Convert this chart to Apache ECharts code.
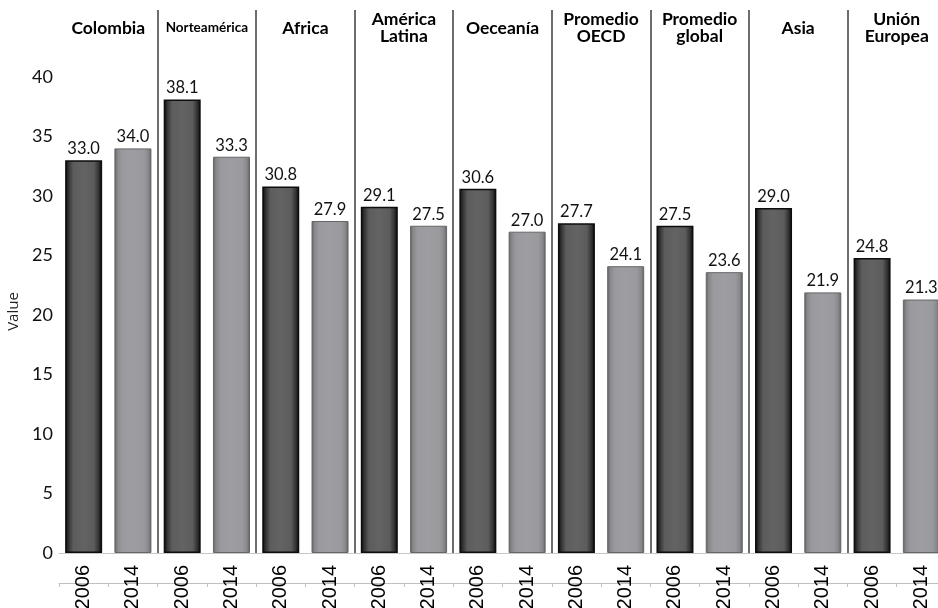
<!DOCTYPE html>
<html><head><meta charset="utf-8">
<script src="https://cdn.jsdelivr.net/npm/echarts@6/dist/echarts.min.js"></script>
<style>html,body{margin:0;padding:0;background:#fff}#c{width:938px;height:608px}</style>
</head><body><div id="c"></div>
<script>
const regions = ['Colombia','Norteamérica','Africa','América\nLatina','Oeceanía','Promedio\nOECD','Promedio\nglobal','Asia','Unión\nEuropea'];
const years = ['2006','2014'];
const values2006 = [33.0,38.1,30.8,29.1,30.6,27.7,27.5,29.0,24.8];
const values2014 = [34.0,33.3,27.9,27.5,27.0,24.1,23.6,21.9,21.3];
const yTickMax = 40;

function grad(stops){
  return {type:'linear',x:0,y:0,x2:1,y2:0,colorStops:stops.map(s=>({offset:s[0],color:s[1]}))};
}
const darkStyle = {color: grad([[0,'#0a0a0a'],[0.1,'#353535'],[0.22,'#5c5c5c'],[0.5,'#636363'],[0.78,'#5c5c5c'],[0.9,'#353535'],[1,'#0a0a0a']]), borderColor:'#0d0d0d', borderWidth:1.5};
const lightStyle = {color: grad([[0,'#5e5e60'],[0.08,'#88888b'],[0.2,'#9a9a9e'],[0.5,'#9e9ea2'],[0.8,'#9a9a9e'],[0.92,'#88888b'],[1,'#5e5e60']]), borderColor:'#666668', borderWidth:1};

const cats = [];
const data = [];
regions.forEach((r,i)=>{
  cats.push(years[0]+'|'+i); data.push({value:values2006[i], itemStyle:darkStyle});
  cats.push(years[1]+'|'+i); data.push({value:values2014[i], itemStyle:lightStyle});
});

const chart = echarts.init(document.getElementById('c'), null, {renderer:'canvas'});
chart.setOption({
  animation:false,
  backgroundColor:'#fff',
  grid:{left:59, width:887, top:10, bottom:55, containLabel:false, outerBoundsMode:'none'},
  xAxis:[
    {type:'category', data:cats, position:'bottom', boundaryGap:true,
     axisLine:{show:true, lineStyle:{color:'#c8c8c8', width:1}},
     axisTick:{show:false},
     axisLabel:{interval:0, rotate:90, margin:12, fontSize:20, fontFamily:'Liberation Sans', color:'#000',
       formatter:v=>v.split('|')[0]},
     splitLine:{show:false}},
    {type:'category', data:regions, position:'top', boundaryGap:true,
     axisLine:{show:false}, axisTick:{show:false},
     axisLabel:{interval:0, inside:true, margin:18, verticalAlign:'middle', fontSize:17.5, fontWeight:'bold',
       fontFamily:'Lato', color:'#000', lineHeight:17, align:'center',
       formatter:v=> v==='Norteamérica' ? '{n|'+v+'}' : v,
       rich:{n:{fontSize:13.5, fontWeight:'bold', fontFamily:'Lato', color:'#000'}}},
     splitLine:{show:true, showMinLine:false, showMaxLine:false, lineStyle:{color:'#3c3c3c', width:1.5}}},
    {type:'category', data:cats, position:'bottom', offset:30, boundaryGap:true,
     axisLine:{show:true, lineStyle:{color:'#c0c0c0', width:1}},
     axisTick:{show:true, length:4, inside:false, lineStyle:{color:'#c0c0c0'}},
     axisLabel:{show:false}, splitLine:{show:false}}
  ],
  yAxis:{type:'value', min:0, max:45.63, interval:5,
    axisLine:{show:false}, axisTick:{show:false}, splitLine:{show:false},
    axisLabel:{margin:6, fontSize:18, fontFamily:'Lato', color:'#111', padding:[0,0,4,0],
      formatter:v=> (v<=yTickMax && v%5===0) ? String(v) : ''},
    name:'Value', nameLocation:'middle', nameGap:36,
    nameTextStyle:{fontSize:15, fontFamily:'Open Sans', color:'#222', padding:[0,60,0,0]}},
  series:[{type:'bar', xAxisIndex:0, data:data, barWidth:37,
    label:{show:true, position:'top', distance:3, fontSize:16.5, fontFamily:'Lato', color:'#111',
      formatter:p=>p.value.toFixed(1)}}]
});
</script></body></html>
